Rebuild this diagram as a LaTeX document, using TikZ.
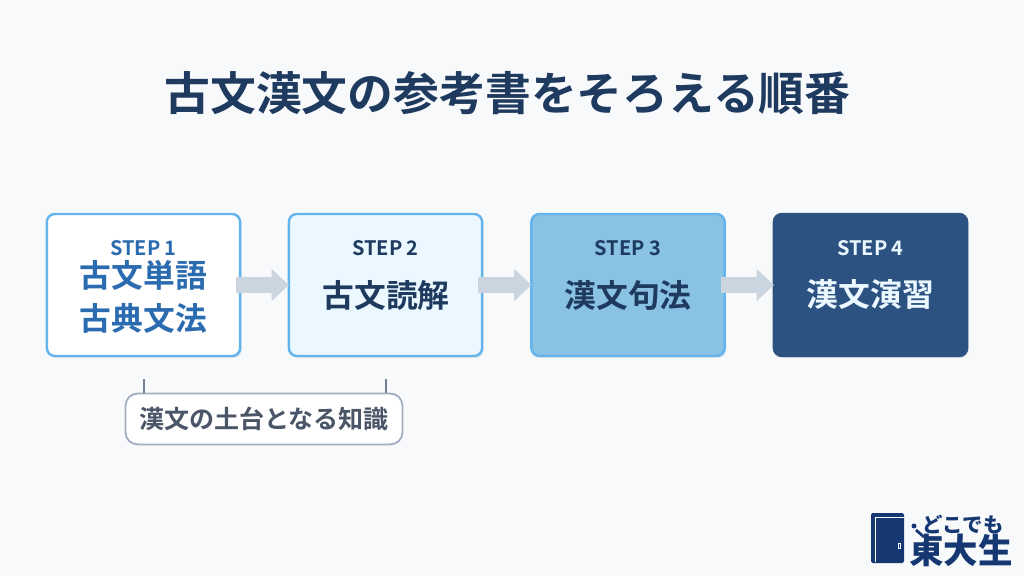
\documentclass[tikz,border=0pt]{standalone}
\usepackage{fontspec}
\setmainfont{Noto Sans CJK JP}[BoldFont={* Bold}]
\newfontfamily\logofont{Noto Sans CJK JP Black}
\usetikzlibrary{arrows.meta,shadows}
\definecolor{pagebg}{HTML}{F8F9FB}
\definecolor{navy}{HTML}{1E3A5F}
\definecolor{edgeblue}{HTML}{63B3ED}
\definecolor{textblue}{HTML}{2B6CB0}
\definecolor{paleblue}{HTML}{EBF8FF}
\definecolor{midblue}{HTML}{89C2E2}
\definecolor{deepblue}{HTML}{2C5282}
\definecolor{flowgray}{HTML}{CBD5E0}
\definecolor{notegray}{HTML}{4A5568}
\definecolor{noteedge}{HTML}{A0AEC0}
\definecolor{tickgray}{HTML}{718096}
\definecolor{logoblue}{HTML}{163872}
\tikzset{
  stepbox/.style={draw=edgeblue,line width=0.06cm,rounded corners=0.2cm,minimum width=4.83cm,minimum height=3.55cm,
    drop shadow={shadow xshift=0.04cm,shadow yshift=-0.05cm,opacity=0.08,fill=black}},
  steplabel/.style={font=\bfseries\fontsize{14.2}{16}\selectfont},
  stepmain/.style={font=\bfseries\fontsize{22.6}{26}\selectfont},
  flowarrow/.style={draw=flowgray,line width=0.4cm,-{Triangle[length=0.43cm,width=0.78cm,fill=flowgray]}},
  logotext/.style={text=logoblue,inner sep=0pt}
}
\begin{document}
\begin{tikzpicture}[x=0.025cm,y=-0.025cm]
  \useasboundingbox[fill=pagebg] (0,0) rectangle (1024,576);

  \node[text=navy,font=\bfseries\fontsize{32.6}{38}\selectfont] (title) at (507.5,93) {古文漢文の参考書をそろえる順番};

  % step boxes
  \node[stepbox,fill=white] (s1) at (143.5,285) {};
  \node[stepbox,fill=paleblue] (s2) at (385.5,285) {};
  \node[stepbox,fill=midblue] (s3) at (628,285) {};
  \node[stepbox,fill=deepblue,draw=deepblue] (s4) at (870.5,285) {};

  % arrows, they start a little inside the box on the left
  \draw[flowarrow] ([xshift=-0.125cm]s1.east) -- ([xshift=0.03cm]s2.west);
  \draw[flowarrow] ([xshift=-0.125cm]s2.east) -- ([xshift=0.03cm]s3.west);
  \draw[flowarrow] ([xshift=-0.125cm]s3.east) -- ([xshift=0.03cm]s4.west);

  % texts
  \node[steplabel,text=textblue] (lab1) at (143.5,248.5) {STEP 1};
  \node[stepmain,text=textblue] (main1a) at (143.5,275) {古文単語};
  \node[stepmain,text=textblue] (main1b) at (143.5,318) {古典文法};
  \node[steplabel,text=navy] (lab2) at (385.5,248.5) {STEP 2};
  \node[stepmain,text=navy] (main2) at (386,295) {古文読解};
  \node[steplabel,text=navy] (lab3) at (628,248.5) {STEP 3};
  \node[stepmain,text=navy] (main3) at (628,295) {漢文句法};
  \node[steplabel,text=paleblue] (lab4) at (870.5,248.5) {STEP 4};
  \node[stepmain,text=paleblue] (main4) at (870.5,295) {漢文演習};

  % note under the first two steps
  \node[draw=noteedge,line width=0.045cm,fill=white,rounded corners=0.3cm,minimum width=6.92cm,minimum height=1.27cm,
    text=notegray,font=\bfseries\fontsize{17.8}{20}\selectfont] (note) at (264,419) {漢文の土台となる知識};
  \coordinate (tickl) at (144,379);
  \coordinate (tickr) at (386,379);
  \draw[tickgray,line width=0.04cm] (tickl) -- (tickl |- note.north);
  \draw[tickgray,line width=0.04cm] (tickr) -- (tickr |- note.north);

  % logo
  \fill[logoblue,rounded corners=0.04cm] (871,513) rectangle (904,563);
  \draw[white,line width=0.025cm] (904,517) -- (875,517) -- (875,562);
  \draw[white,line width=0.02cm] (898.5,543) rectangle (900.5,548);
  \node[logotext,font=\logofont\fontsize{14.5}{16}\selectfont] (logotop) at (963,524) {どこでも};
  \node[logotext,font=\logofont\fontsize{24.5}{28}\selectfont] (logobottom) at (961,550) {東大生};
  \fill[pagebg] (910,533) rectangle (924,541);
  \fill[logoblue] (914,526) circle (2.5);
  \draw[logoblue,line width=0.07cm] (916,530) -- (924,537);
\end{tikzpicture}
\end{document}
